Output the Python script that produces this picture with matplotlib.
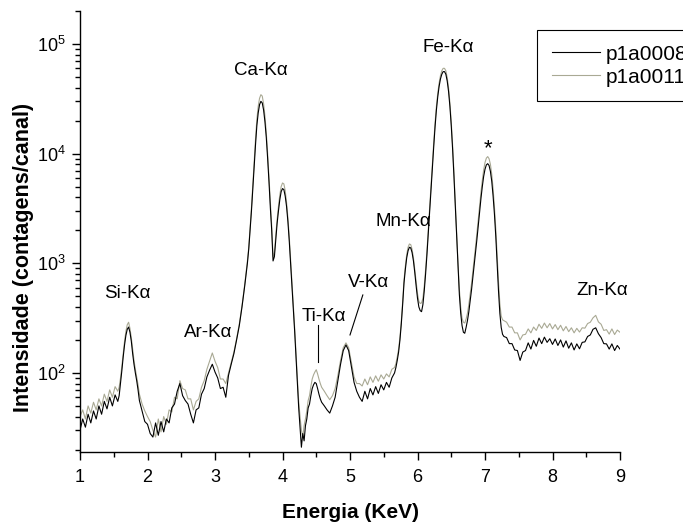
import numpy as np
import matplotlib
matplotlib.use('Agg')
import matplotlib.pyplot as plt
from matplotlib.ticker import LogLocator, NullFormatter

plt.rcParams['font.family'] = ['Liberation Sans', 'DejaVu Sans']
plt.rcParams['mathtext.fontset'] = 'custom'
plt.rcParams['mathtext.rm'] = 'Liberation Sans'
plt.rcParams['mathtext.it'] = 'Liberation Sans:italic'
plt.rcParams['mathtext.bf'] = 'Liberation Sans:bold'

# energy channels (keV), finer around the peaks
energia = [
    1.00, 1.04, 1.08, 1.12, 1.16, 1.20, 1.24, 1.28, 1.32, 1.36, 1.40, 1.44, 1.48, 1.52, 1.56,
    1.58, 1.60, 1.62, 1.64, 1.66, 1.68, 1.70, 1.72, 1.74, 1.76, 1.78, 1.80, 1.82, 1.84, 1.86, 1.88,
    1.92, 1.96, 2.00, 2.04, 2.08, 2.12, 2.16, 2.20, 2.24, 2.28, 2.32, 2.36, 2.40, 2.44, 2.48, 2.52,
    2.56, 2.60, 2.64, 2.68, 2.72, 2.76, 2.80, 2.84, 2.88, 2.92, 2.96, 3.00, 3.04, 3.08, 3.12, 3.16,
    3.20, 3.24, 3.28, 3.32, 3.36, 3.40, 3.44, 3.48,
    3.50, 3.52, 3.54, 3.56, 3.58, 3.60, 3.62, 3.64, 3.66, 3.68, 3.70, 3.72, 3.74, 3.76, 3.78, 3.80,
    3.82, 3.84, 3.86, 3.88, 3.90, 3.92, 3.94, 3.96, 3.98, 4.00, 4.02, 4.04, 4.06, 4.08, 4.10, 4.12,
    4.14, 4.16, 4.18, 4.20, 4.22, 4.24, 4.26, 4.28, 4.30, 4.32, 4.34, 4.36, 4.38, 4.40, 4.42, 4.44,
    4.46, 4.48, 4.50, 4.52, 4.54, 4.56, 4.58,
    4.62, 4.66, 4.70, 4.74, 4.78, 4.82, 4.86, 4.90, 4.94, 4.98, 5.02, 5.06, 5.10, 5.14, 5.18, 5.22,
    5.26, 5.30, 5.34, 5.38, 5.42, 5.46, 5.50, 5.54, 5.58, 5.62, 5.66,
    5.68, 5.70, 5.72, 5.74, 5.76, 5.78, 5.80, 5.82, 5.84, 5.86, 5.88, 5.90, 5.92, 5.94, 5.96, 5.98,
    6.00, 6.02, 6.04, 6.06, 6.08, 6.10, 6.12, 6.14, 6.16, 6.18, 6.20, 6.22, 6.24, 6.26, 6.28, 6.30,
    6.32, 6.34, 6.36, 6.38, 6.40, 6.42, 6.44, 6.46, 6.48, 6.50, 6.52, 6.54, 6.56, 6.58, 6.60, 6.62,
    6.64, 6.66, 6.68, 6.70, 6.72, 6.74, 6.76, 6.78, 6.80, 6.82, 6.84, 6.86, 6.88, 6.90, 6.92, 6.94,
    6.96, 6.98, 7.00, 7.02, 7.04, 7.06, 7.08, 7.10, 7.12, 7.14, 7.16, 7.18, 7.20, 7.22, 7.24, 7.26,
    7.28,
    7.32, 7.36, 7.40, 7.44, 7.48, 7.52, 7.56, 7.60, 7.64, 7.68, 7.72, 7.76, 7.80, 7.84, 7.88, 7.92,
    7.96, 8.00, 8.04, 8.08, 8.12, 8.16, 8.20, 8.24, 8.28, 8.32, 8.36, 8.40, 8.44, 8.48, 8.52, 8.56,
    8.60, 8.64, 8.68, 8.72, 8.76, 8.80, 8.84, 8.88, 8.92, 8.96, 9.00,
]

# p1a0008 (black trace), counts per channel
p1a0008 = [
    30, 38, 32, 42, 35, 45, 38, 50, 42, 55, 47, 60, 50, 63, 55,
    62, 80, 105, 140, 180, 220, 250, 262, 235, 195, 150, 120, 100, 85, 70, 56,
    45, 36, 34, 28, 26, 35, 27, 36, 29, 38, 35, 48, 52, 68, 80, 62,
    56, 52, 42, 35, 46, 48, 64, 72, 92, 106, 120, 102, 90, 72, 74, 60,
    95, 120, 150, 200, 270, 400, 620, 1000,
    1350, 2000, 3000, 4800, 7800, 12000, 18000, 23500, 28000, 30000, 29000, 25000, 19500, 14000, 9000, 5500,
    3200, 2000, 1050, 1150, 1650, 2300, 3000, 3800, 4500, 4800, 4700, 4100, 3300, 2400, 1600, 1000,
    620, 400, 240, 140, 80, 48, 32, 21, 28, 24, 33, 38, 48, 52, 62, 72,
    78, 82, 80, 72, 64, 58, 54,
    50, 46, 43, 50, 60, 85, 120, 160, 180, 160, 115, 82, 68, 60, 55, 68,
    58, 72, 63, 75, 65, 78, 70, 82, 74, 90, 100,
    112, 130, 155, 200, 280, 420, 660, 880, 1120, 1300, 1400, 1380, 1250, 1050, 820, 620,
    480, 400, 370, 362, 420, 560, 800, 1200, 1900, 3000, 4700, 7500, 11500, 17500, 25000, 33000,
    41000, 48000, 53000, 56000, 56000, 53000, 46000, 37000, 27000, 18000, 11000, 6200, 3300, 1700, 900, 520,
    350, 270, 235, 230, 260, 300, 360, 450, 570, 740, 960, 1250, 1650, 2200, 2950, 3900,
    5000, 6200, 7200, 7900, 8100, 7800, 6900, 5600, 4100, 2800, 1750, 1000, 560, 350, 260, 225,
    215,
    210, 185, 185, 162, 160, 130, 155, 160, 188, 165, 198, 175, 208, 185, 212, 190,
    205, 182, 204, 178, 200, 172, 196, 168, 188, 162, 184, 166, 190, 192, 215, 222,
    250, 258, 228, 210, 185, 184, 165, 184, 160, 178, 165,
]

# p1a0011 (grey trace), counts per channel
p1a0011 = [
    40, 46, 38, 50, 43, 54, 46, 58, 50, 64, 55, 70, 60, 75, 68,
    74, 90, 115, 150, 195, 240, 275, 290, 255, 210, 165, 130, 108, 92, 78, 64,
    52, 45, 40, 36, 30, 26, 38, 29, 40, 34, 46, 44, 60, 58, 85, 72,
    70, 58, 58, 46, 55, 58, 74, 85, 108, 128, 152, 128, 112, 88, 88, 80,
    100, 125, 155, 205, 280, 410, 640, 1050,
    1400, 2100, 3200, 5200, 8500, 13500, 20500, 27000, 32000, 34500, 33500, 28500, 22000, 15500, 10000, 6000,
    3500, 2200, 1150, 1250, 1800, 2500, 3300, 4200, 5000, 5400, 5300, 4600, 3600, 2600, 1750, 1080,
    660, 420, 260, 150, 90, 55, 40, 30, 26, 33, 38, 45, 56, 62, 75, 88,
    96, 102, 107, 98, 88, 80, 74,
    68, 62, 57, 62, 72, 95, 130, 170, 188, 170, 125, 92, 80, 80, 76, 88,
    78, 92, 82, 94, 84, 96, 88, 98, 92, 108, 112,
    122, 140, 165, 212, 295, 445, 700, 940, 1200, 1400, 1500, 1480, 1340, 1120, 880, 680,
    530, 450, 430, 435, 480, 620, 880, 1300, 2050, 3200, 5000, 8000, 12500, 19000, 27000, 35500,
    44000, 51500, 57000, 60000, 60000, 57000, 49500, 40000, 29000, 19500, 12000, 6800, 3600, 1850, 1000, 580,
    400, 315, 290, 285, 310, 350, 420, 520, 650, 840, 1090, 1420, 1870, 2500, 3350, 4450,
    5700, 7100, 8300, 9100, 9400, 9000, 8000, 6500, 4800, 3250, 2050, 1200, 680, 430, 330, 305,
    300,
    290, 262, 262, 232, 232, 200, 222, 225, 252, 232, 262, 244, 278, 255, 285, 258,
    282, 252, 276, 248, 272, 242, 265, 238, 258, 232, 255, 236, 258, 256, 282, 290,
    318, 335, 292, 278, 244, 248, 226, 252, 224, 246, 235,
]

series_names = ['p1a0008', 'p1a0011']
series_colors = ['#000000', '#a9a994']

# peak labels: (text, energy, intensity)
peak_labels = [
    ('Si-Kα', 1.70, 535),
    ('Ar-Kα', 2.90, 232),
    ('Ca-Kα', 3.68, 57500),
    ('Ti-Kα', 4.61, 330),
    ('V-Kα', 5.27, 662),
    ('Mn-Kα', 5.785, 2380),
    ('Fe-Kα', 6.45, 93800),
    ('Zn-Kα', 8.73, 559),
]

fig = plt.figure(figsize=(6.83, 5.25), dpi=100)
ax = fig.add_axes([80 / 683, 73 / 525, 540 / 683, 441 / 525])

ax.plot(energia, p1a0008, color=series_colors[0], lw=0.8, label=series_names[0], zorder=3)
ax.plot(energia, p1a0011, color=series_colors[1], lw=0.8, label=series_names[1], zorder=2)

ax.set_yscale('log')
ax.set_xlim(1, 9)
ax.set_ylim(19, 2e5)
ax.set_xticks(range(1, 10))
ax.set_xticks(np.arange(1.5, 9, 1.0), minor=True)
ax.yaxis.set_major_locator(LogLocator(base=10, numticks=10))
ax.yaxis.set_minor_locator(LogLocator(base=10, subs=np.arange(2, 10), numticks=20))
ax.yaxis.set_minor_formatter(NullFormatter())

for side in ['top', 'right']:
    ax.spines[side].set_visible(False)
for side in ['left', 'bottom']:
    ax.spines[side].set_linewidth(1.0)

ax.tick_params(which='major', direction='out', length=5.5, width=1.0, labelsize=13, pad=5)
ax.tick_params(axis='x', which='major', pad=7)
ax.tick_params(which='minor', direction='out', length=3.3, width=1.0)

ax.set_xlabel('Energia (KeV)', fontsize=15, fontweight='bold', labelpad=12)
ax.set_ylabel('Intensidade (contagens/canal)', fontsize=15.5, fontweight='bold')
ax.yaxis.set_label_coords(-0.085, 0.442)

for txt, e, v in peak_labels:
    ax.text(e, v, txt, fontsize=13.5, ha='center', va='center')
ax.text(7.04, 11000, '*', fontsize=16, ha='center', va='center')

# leader lines for Ti and V
ax.plot([4.52, 4.52], [274, 127], color='black', lw=0.8)
ax.plot([5.19, 5.00], [514, 222], color='black', lw=0.8)

leg = ax.legend(loc='upper left', bbox_to_anchor=(537 / 683, 1 - 30 / 525),
                bbox_transform=fig.transFigure, fontsize=15, frameon=True,
                fancybox=False, edgecolor='black', framealpha=1,
                handlelength=2.3, handletextpad=0.3, borderpad=0.7, labelspacing=0.2,
                borderaxespad=0)
leg.get_frame().set_linewidth(0.8)

fig.savefig('out.png', dpi=100)
